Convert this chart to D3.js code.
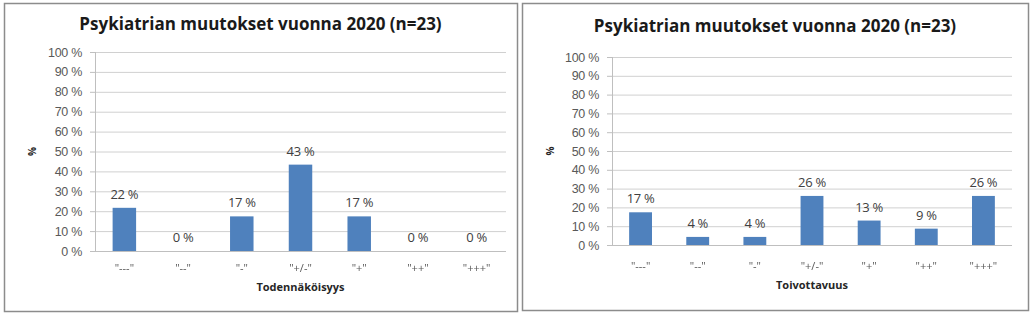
<!DOCTYPE html>
<html>
<head>
<meta charset="utf-8">
<script src="https://cdn.jsdelivr.net/npm/d3@7"></script>
<style>
  body { margin: 0; background: #fff; }
  svg { display: block; font-family: "Open Sans", "Noto Sans", sans-serif; }
  .cats { filter: grayscale(1); }
</style>
</head>
<body>
<svg id="page" width="1032" height="317"></svg>
<script>
const title = 'Psykiatrian muutokset vuonna 2020 (n=23)';
const categories = [ '"---"', '"--"', '"-"', '"+/-"', '"+"', '"++"', '"+++"' ];
const likelihood = [ 21.7, 0, 17.4, 43.4, 17.4, 0, 0 ];
const desirability = [ 17.4, 4.3, 4.3, 26.1, 13.0, 8.7, 26.1 ];
const yticks = [ 0, 10, 20, 30, 40, 50, 60, 70, 80, 90, 100 ];

class BarChart {
    constructor( config, values ) {
        this.config = {
            parent: config.parent,
            frame: config.frame,
            plot: config.plot,
            titleY: config.titleY,
            xlabelY: config.xlabelY,
            ylabelX: config.ylabelX,
            xlabel: config.xlabel || ''
        };
        this.data = categories.map( ( c, i ) => ({ cat: c, value: values[i] }) );
        this.init();
    }

    init() {
        let self = this;
        const f = self.config.frame;
        const p = self.config.plot;

        self.g = d3.select( self.config.parent ).append( 'g' );

        self.g.append( 'rect' )
            .attr( 'x', f.x + 0.5 ).attr( 'y', f.y + 0.5 )
            .attr( 'width', f.w ).attr( 'height', f.h )
            .attr( 'fill', 'none' )
            .attr( 'stroke', '#8c8c8c' )
            .attr( 'stroke-width', 1.5 );

        self.xscale = d3.scaleBand()
            .domain( categories )
            .range( [ p.left, p.right ] )
            .paddingInner( 0.6 )
            .paddingOuter( 0.3 );

        self.yscale = d3.scaleLinear()
            .domain( [ 0, 100 ] )
            .range( [ p.bottom, p.top ] );

        // gridlines + y axis
        const yaxis = d3.axisLeft( self.yscale )
            .tickValues( yticks )
            .tickSize( -( p.right - p.left ) )
            .tickPadding( 13 )
            .tickFormat( d => d + ' %' );

        const ya = self.g.append( 'g' )
            .attr( 'transform', `translate(${p.left},0)` )
            .call( yaxis );
        ya.select( '.domain' ).remove();
        ya.selectAll( 'line' ).attr( 'stroke', '#d0d0d0' );
        ya.selectAll( 'text' )
            .attr( 'fill', '#595959' )
            .style( 'font-size', '12.5px' )
            .style( 'letter-spacing', '-0.3px' );

        // small outer tick marks
        self.g.append( 'g' ).selectAll( 'line' )
            .data( yticks )
            .join( 'line' )
            .attr( 'x1', p.left - 5 ).attr( 'x2', p.left )
            .attr( 'y1', d => self.yscale( d ) + 0.5 )
            .attr( 'y2', d => self.yscale( d ) + 0.5 )
            .attr( 'stroke', '#bfbfbf' );

        self.g.append( 'line' )
            .attr( 'x1', p.left + 0.5 ).attr( 'x2', p.left + 0.5 )
            .attr( 'y1', p.top ).attr( 'y2', p.bottom )
            .attr( 'stroke', '#bfbfbf' );
        self.g.append( 'line' )
            .attr( 'x1', p.left ).attr( 'x2', p.right )
            .attr( 'y1', p.bottom + 0.5 ).attr( 'y2', p.bottom + 0.5 )
            .attr( 'stroke', '#bfbfbf' );

        // bars
        self.g.append( 'g' ).selectAll( 'rect' )
            .data( self.data )
            .join( 'rect' )
            .attr( 'x', d => self.xscale( d.cat ) )
            .attr( 'y', d => self.yscale( d.value ) )
            .attr( 'width', self.xscale.bandwidth() )
            .attr( 'height', d => p.bottom - self.yscale( d.value ) )
            .attr( 'fill', '#4f81bd' );

        // value labels
        self.g.append( 'g' ).selectAll( 'text' )
            .data( self.data )
            .join( 'text' )
            .attr( 'x', d => self.xscale( d.cat ) + self.xscale.bandwidth() / 2 )
            .attr( 'y', d => self.yscale( d.value ) - 9 )
            .attr( 'text-anchor', 'middle' )
            .attr( 'fill', '#404040' )
            .style( 'font-size', '13px' )
            .style( 'letter-spacing', '-0.3px' )
            .text( d => Math.round( d.value ) + ' %' );

        // category labels
        self.g.append( 'g' )
            .attr( 'class', 'cats' )
            .selectAll( 'text' )
            .data( self.data )
            .join( 'text' )
            .attr( 'x', d => self.xscale( d.cat ) + self.xscale.bandwidth() / 2 )
            .attr( 'y', self.config.xlabelY - 19 )
            .attr( 'text-anchor', 'middle' )
            .attr( 'fill', '#595959' )
            .style( 'font-size', '11px' )
            .text( d => d.cat );

        // title
        self.g.append( 'text' )
            .attr( 'x', f.x + f.w / 2 )
            .attr( 'y', self.config.titleY )
            .attr( 'text-anchor', 'middle' )
            .attr( 'fill', '#1a1a1a' )
            .style( 'font-size', '17px' )
            .style( 'font-weight', 'bold' )
            .text( title );

        // x axis title
        self.g.append( 'text' )
            .attr( 'x', ( p.left + p.right ) / 2 )
            .attr( 'y', self.config.xlabelY )
            .attr( 'text-anchor', 'middle' )
            .attr( 'fill', '#262626' )
            .style( 'font-size', '11px' )
            .style( 'font-weight', 'bold' )
            .text( self.config.xlabel );

        // y axis title
        self.g.append( 'text' )
            .attr( 'transform', `translate(${self.config.ylabelX}, ${( p.top + p.bottom ) / 2}) rotate(-90)` )
            .attr( 'text-anchor', 'middle' )
            .attr( 'dy', '0.35em' )
            .attr( 'fill', '#262626' )
            .style( 'font-size', '10px' )
            .style( 'font-weight', 'bold' )
            .text( '%' );
    }
}

new BarChart( {
    parent: '#page',
    frame: { x: 4, y: 3, w: 513, h: 308 },
    plot: { left: 95, right: 506, top: 52, bottom: 251 },
    titleY: 30,
    xlabelY: 291,
    ylabelX: 32,
    xlabel: 'Todennäköisyys'
}, likelihood );

new BarChart( {
    parent: '#page',
    frame: { x: 522, y: 3, w: 506, h: 307 },
    plot: { left: 612, right: 1012, top: 57, bottom: 245 },
    titleY: 32,
    xlabelY: 289,
    ylabelX: 550,
    xlabel: 'Toivottavuus'
}, desirability );
</script>
</body>
</html>
